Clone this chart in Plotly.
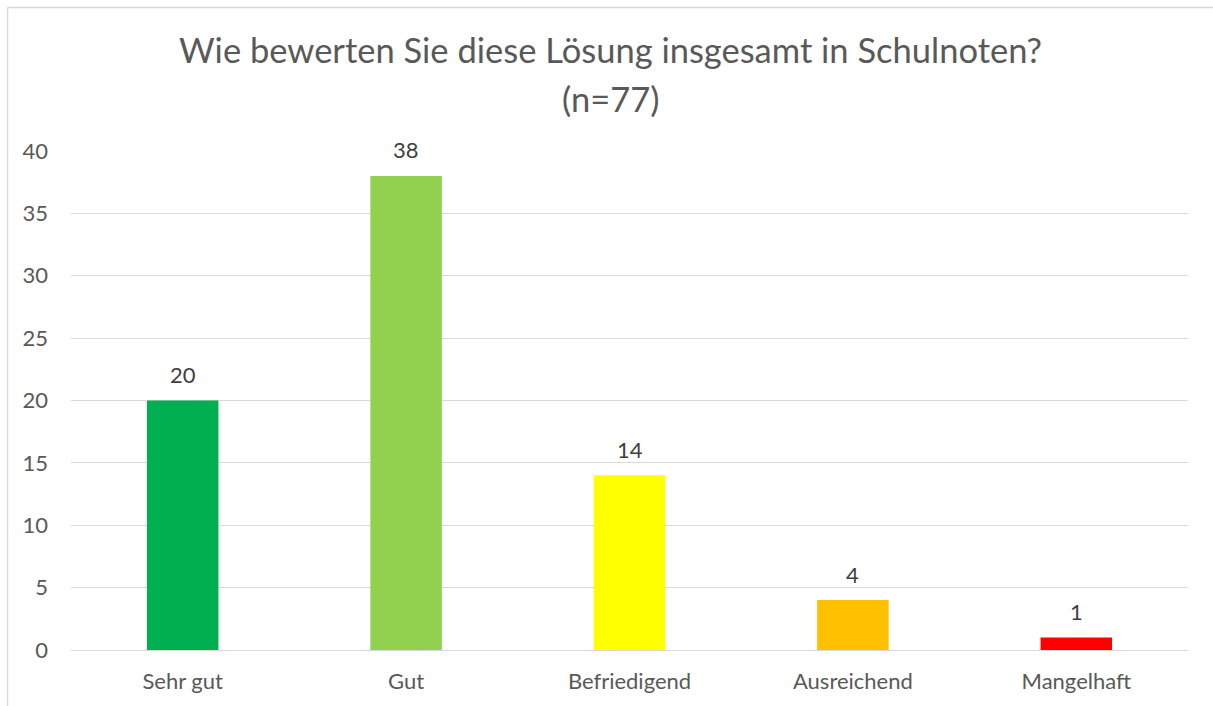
import plotly.graph_objects as go

categories = ["Sehr gut", "Gut", "Befriedigend", "Ausreichend", "Mangelhaft"]
values = [20, 38, 14, 4, 1]
colors = ["#00B050", "#92D050", "#FFFF00", "#FFC000", "#FF0000"]
y_ticks = [0, 5, 10, 15, 20, 25, 30, 35, 40]
title_lines = ["Wie bewerten Sie diese Lösung insgesamt in Schulnoten?", "(n=77)"]

W, H = 1213, 706
L, R, T, B = 71, 25, 151, 56
pw, ph = W - L - R, H - T - B

text_color = "#595959"
font_family = "Lato, Open Sans, sans-serif"

fig = go.Figure(go.Bar(
    x=categories, y=values,
    marker=dict(color=colors, line=dict(width=0)),
    width=0.32,
    hoverinfo="x+y",
))

for c, v in zip(categories, values):
    fig.add_annotation(
        x=c, y=v, text=str(v), showarrow=False,
        xref="x", yref="y", yanchor="middle", yshift=26,
        font=dict(size=22, color="#404040", family=font_family),
    )

def px_x(p):
    return (p - L) / pw

def px_y(p):
    return (H - B - p) / ph

for line, ypx in zip(title_lines, [50, 98]):
    fig.add_annotation(
        x=px_x(610), y=px_y(ypx), xref="paper", yref="paper",
        text=line, showarrow=False, xanchor="center", yanchor="middle",
        font=dict(size=34.5, color=text_color, family=font_family),
    )

fig.update_layout(
    width=W, height=H,
    margin=dict(l=L, r=R, t=T, b=B),
    paper_bgcolor="white", plot_bgcolor="white",
    font=dict(family=font_family, color=text_color),
    xaxis=dict(
        showgrid=False, showline=False, zeroline=False,
        tickfont=dict(size=22, color=text_color),
        ticks="", ticklabelstandoff=16,
    ),
    yaxis=dict(
        range=[0, 40], tickvals=y_ticks, showgrid=True, gridcolor="#D9D9D9",
        gridwidth=1.3, zeroline=True, zerolinecolor="#D9D9D9", zerolinewidth=1.3,
        showline=False, ticks="", tickfont=dict(size=22, color=text_color),
        ticklabelstandoff=22,
    ),
    showlegend=False,
    bargap=0.68,
    shapes=[
        dict(type="line", xref="paper", yref="paper",
             x0=px_x(7.5), x1=px_x(W + 5), y0=px_y(7.5), y1=px_y(7.5),
             line=dict(color="#D9D9D9", width=1.5)),
        dict(type="line", xref="paper", yref="paper",
             x0=px_x(7.5), x1=px_x(7.5), y0=px_y(7.5), y1=px_y(H + 5),
             line=dict(color="#D9D9D9", width=1.5)),
    ],
)

fig.write_html(
    "out.html",
    config={"displayModeBar": False},
    post_script="document.body.style.margin='0';document.body.style.overflow='hidden';",
)
